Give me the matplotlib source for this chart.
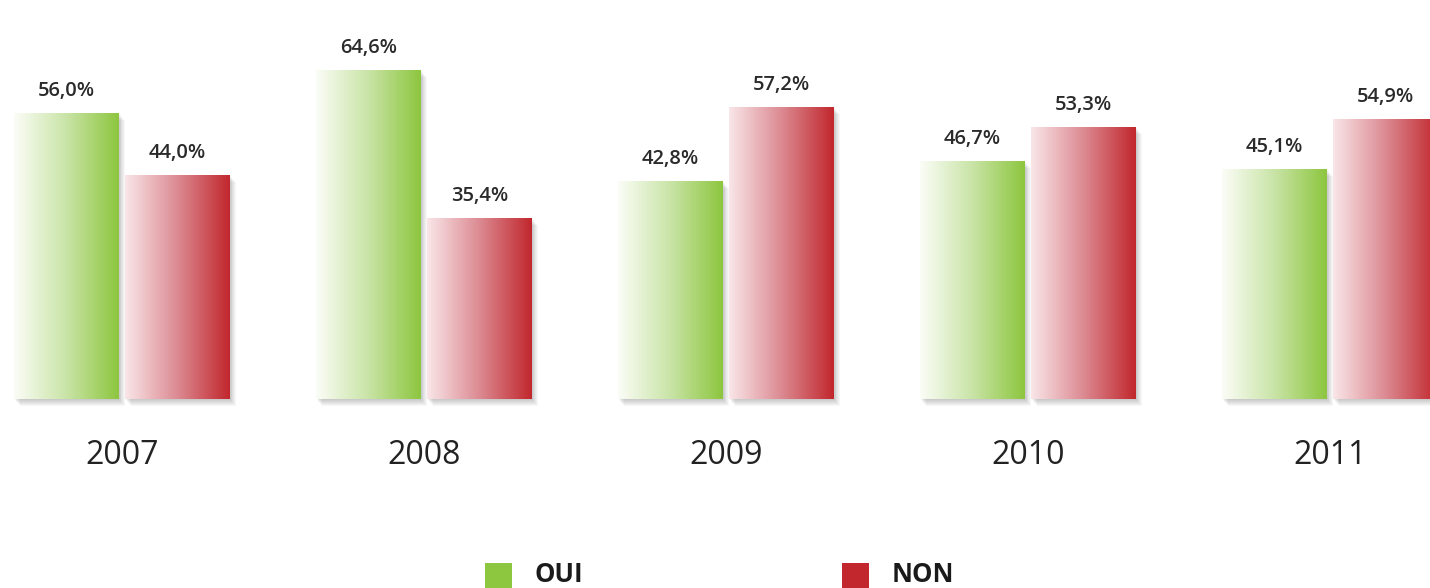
import numpy as np
import matplotlib
matplotlib.use("Agg")
import matplotlib.pyplot as plt
from matplotlib.patches import Rectangle
from matplotlib.colors import LinearSegmentedColormap

years = ["2007", "2008", "2009", "2010", "2011"]
oui = [56.0, 64.6, 42.8, 46.7, 45.1]
non = [44.0, 35.4, 57.2, 53.3, 54.9]
series_names = ["OUI", "NON"]

W, H = 1430, 588
fig = plt.figure(figsize=(W / 100, H / 100), dpi=100)
ax = fig.add_axes([0, 0, 1, 1])
ax.set_axis_off()

spacing = 302.0
ax.set_xlim(-122 / spacing, (W - 122) / spacing)
scale = 5.1
base = 399
ax.set_ylim(-(H - base) / scale, base / scale)

width = 105 / spacing
off = (105 / 2 + 3) / spacing

green_cmap = LinearSegmentedColormap.from_list("g", ["#fbfdf7", "#c9e4a6", "#8dc63f"])
red_cmap = LinearSegmentedColormap.from_list("r", ["#f9e6e8", "#dc8a92", "#c1272d"])
grad = np.linspace(0, 1, 256).reshape(1, -1)

x = np.arange(len(years))
font = "Open Sans"

def draw_series(xs, vals, cmap):
    bars = ax.bar(xs, vals, width=width, color="none", edgecolor="none", zorder=3)
    for b, v in zip(bars, vals):
        x0, y0 = b.get_x(), b.get_y()
        w, h = b.get_width(), b.get_height()
        # soft shadow
        for k in range(7, 0, -1):
            dx = k * 0.8 / spacing
            dy = k * 1.0 / scale
            ax.add_patch(Rectangle((x0 + dx, y0 - dy), w, h, facecolor="#000000",
                                   alpha=0.03, edgecolor="none", zorder=1))
        im = ax.imshow(grad, cmap=cmap, extent=(x0, x0 + w, y0, y0 + h),
                       aspect="auto", zorder=2, interpolation="bilinear")
        im.set_clip_path(b)
        ax.text(x0 + w / 2, v + 12 / scale, f"{v:.1f}%".replace(".", ","),
                ha="center", va="bottom", fontsize=14.5, fontweight="semibold",
                color="#2a2a2a", family=font, zorder=4)
    return bars

draw_series(x - off, oui, green_cmap)
draw_series(x + off, non, red_cmap)

for xi, yr in zip(x, years):
    ax.text(xi, -(455 - base) / scale, yr, ha="center", va="center",
            fontsize=23, fontweight="medium", color="#222222", family=font)

# legend
def px2fig(px, py):
    return px / W, 1 - py / H

leg = [(485, "#8dc63f", series_names[0]), (842, "#c1272d", series_names[1])]
for lx, col, name in leg:
    fx, fy = px2fig(lx, 589)
    fig.patches.append(Rectangle((fx, fy), 27 / W, 26 / H, transform=fig.transFigure,
                                 facecolor=col, edgecolor="none"))
    tx, ty = px2fig(lx + 50, 574)
    fig.text(tx, ty, name, ha="left", va="center", fontsize=18.5, fontweight="bold",
             color="#1a1a1a", family=font)

fig.savefig("out.png", dpi=100, facecolor="white")
